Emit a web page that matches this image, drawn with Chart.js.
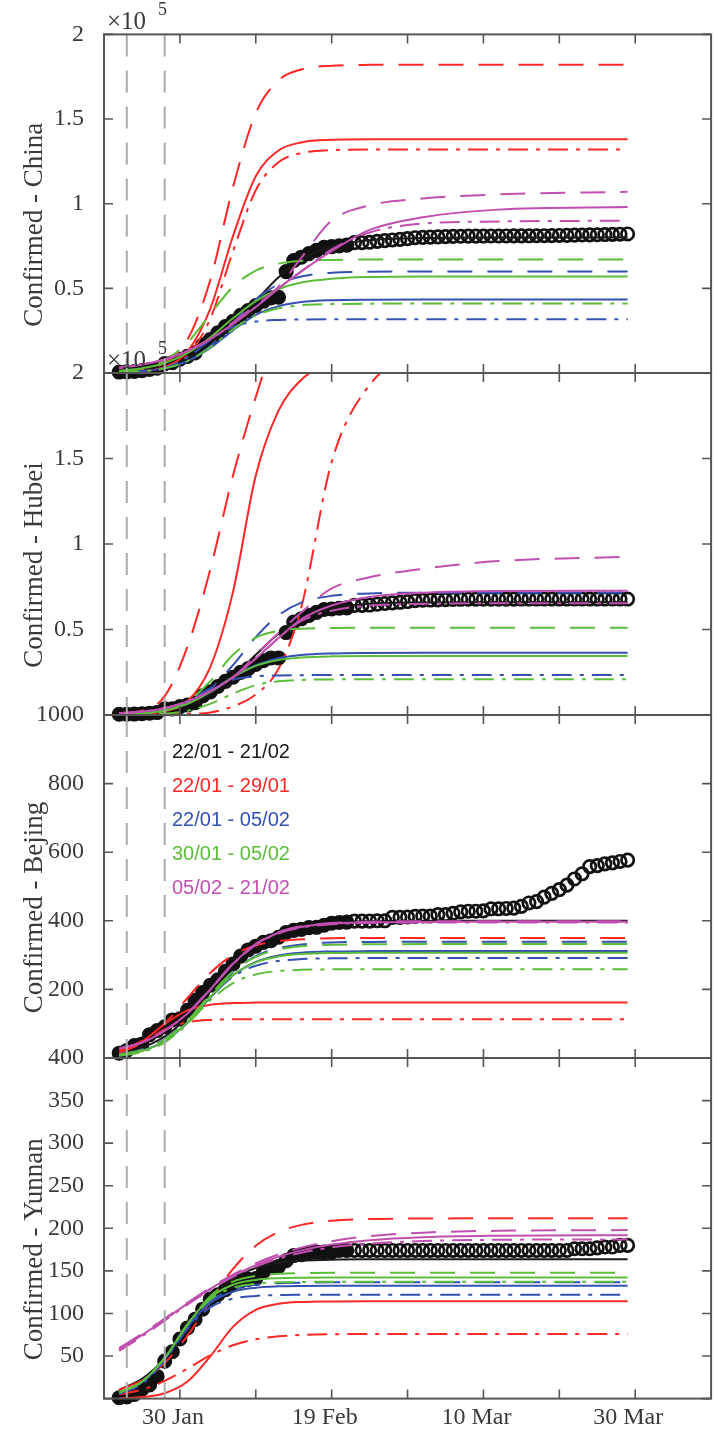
<!DOCTYPE html>
<html>
<head>
<meta charset="utf-8">
<script src="https://cdn.jsdelivr.net/npm/chart.js@4.4.1/dist/chart.umd.min.js"></script>
<style>
  html, body { margin: 0; padding: 0; background: #fff; }
  #wrap { position: relative; width: 720px; height: 1433px; }
  #wrap canvas { position: absolute; left: 0; top: 0; }
</style>
</head>
<body>
<div id="wrap">
  <canvas id="c0" width="720" height="1433"></canvas>
  <canvas id="c1" width="720" height="1433"></canvas>
  <canvas id="c2" width="720" height="1433"></canvas>
  <canvas id="c3" width="720" height="1433"></canvas>
</div>
<script>
// days counted from 22 Jan
const MARK_DAYS = [1, 6];
const XTICK_DAYS = [8, 18, 28, 38, 48, 58, 68];
const XTICK_LABELS = ["30 Jan", "", "19 Feb", "", "10 Mar", "", "30 Mar"];
const FILLED_UNTIL = 30; // 21/02, last day of the fitting data

// fitting windows (legend)
const WINDOWS = ["22/01 - 21/02", "22/01 - 29/01", "22/01 - 05/02", "30/01 - 05/02", "05/02 - 21/02"];

// fitted curves are sampled on these days
const FIT_DAYS = [0, 3, 6, 9, 12, 15, 18, 21, 24, 28, 33, 40, 50, 67];

// observed confirmed cases, one value per day from 22/01 to 29/03
const CHINA = [548, 643, 920, 1406, 2075, 2877, 5509, 6087, 8141, 9802,
  11891, 16630, 19716, 23707, 27440, 30587, 34110, 36814, 39829, 42354,
  44386, 44759, 59895, 66358, 68413, 70513, 72434, 74211, 74619, 75077,
  75550, 77001, 77022, 77241, 77754, 78166, 78600, 78928, 79356, 79932,
  80136, 80261, 80386, 80537, 80690, 80770, 80823, 80860, 80887, 80921,
  80932, 80945, 80977, 81003, 81033, 81058, 81102, 81156, 81250, 81305,
  81435, 81498, 81591, 81661, 81782, 81897, 81999, 82122];
const HUBEI = [444, 444, 549, 761, 1058, 1423, 3554, 3554, 4903, 5806,
  7153, 11177, 13522, 16678, 19665, 22112, 24953, 27100, 29631, 31728,
  33366, 33366, 48206, 54406, 56249, 58182, 59989, 61682, 62031, 62442,
  62662, 64084, 64084, 64287, 64786, 65187, 65596, 65914, 66337, 66907,
  67103, 67217, 67332, 67466, 67592, 67666, 67707, 67743, 67760, 67773,
  67781, 67786, 67790, 67794, 67798, 67799, 67800, 67800, 67800, 67800,
  67800, 67800, 67801, 67801, 67801, 67801, 67801, 67801];
const BEIJING = [14, 22, 36, 41, 68, 80, 91, 111, 114, 139,
  168, 191, 212, 228, 253, 274, 297, 315, 326, 337,
  342, 352, 366, 372, 375, 380, 381, 387, 393, 395,
  396, 399, 399, 399, 400, 400, 410, 410, 411, 413,
  414, 414, 418, 418, 422, 426, 428, 428, 429, 435,
  435, 436, 437, 442, 452, 456, 469, 480, 491, 504,
  522, 537, 558, 561, 566, 569, 573, 577];
const YUNNAN = [1, 2, 5, 11, 16, 26, 44, 55, 70, 83,
  93, 105, 117, 122, 128, 135, 138, 140, 141, 149,
  154, 155, 162, 168, 169, 171, 172, 172, 172, 174,
  174, 174, 174, 174, 174, 174, 174, 174, 174, 174,
  174, 174, 174, 174, 174, 174, 174, 174, 174, 174,
  174, 174, 174, 174, 174, 174, 174, 174, 174, 174,
  176, 176, 176, 177, 178, 178, 180, 180];

// fitted curves per window: [solid, dashed, dash-dot]
const CHINA_FITS = {
  "22/01 - 21/02": [[1000, 2080, 4300, 8500, 16100, 27900, 42500, 56500, 66800, 74600, 78400, 79700, 80000, 80000]],
  "22/01 - 29/01": [
    [270, 990, 3600, 12700, 37900, 80900, 116200, 131400, 136200, 137700, 138000, 138000, 138000, 138000],
    [510, 1780, 6100, 19800, 54800, 109800, 153400, 172800, 179300, 181500, 182000, 182000, 182000, 182000],
    [210, 800, 2950, 10400, 32000, 71900, 107900, 124500, 129900, 131600, 132000, 132000, 132000, 132000]],
  "22/01 - 05/02": [
    [420, 1120, 2890, 7000, 14800, 25200, 34300, 39500, 41900, 43000, 43300, 43400, 43400, 43400],
    [410, 1090, 2840, 7100, 15900, 29500, 43400, 52500, 57000, 59200, 59800, 60000, 60000, 60000],
    [220, 840, 3000, 9200, 19400, 27200, 30400, 31350, 31600, 31700, 31700, 31700, 31700, 31700]],
  "30/01 - 05/02": [
    [1270, 2780, 5900, 11700, 21000, 32300, 42500, 49500, 53400, 55700, 56700, 57000, 57000, 57000],
    [940, 2700, 7400, 17900, 34700, 50900, 60500, 64600, 66200, 66800, 67000, 67000, 67000, 67000],
    [360, 1010, 2770, 7000, 15200, 25800, 34000, 38200, 40000, 40700, 40950, 41000, 41000, 41000]],
  "05/02 - 21/02": [
    [3000, 5000, 8000, 13000, 20000, 29000, 39000, 50000, 60000, 72000, 84500, 92000, 96500, 98000],
    [3000, 5000, 8000, 13000, 20000, 30000, 40000, 51000, 68000, 90000, 99000, 103000, 105500, 107000],
    [3000, 5000, 8000, 13000, 20000, 29000, 39000, 50000, 60000, 73000, 83000, 88300, 89500, 90000]]
};
const HUBEI_FITS = {
  "22/01 - 21/02": [[580, 1290, 2830, 6040, 12200, 22300, 35200, 47500, 56300, 62300, 65000, 65800, 66000, 66000]],
  "22/01 - 29/01": [
    [300, 800, 2200, 8000, 28000, 72000, 140000, 178000, 196000, 207000, 212000, 213000, 213000, 213000],
    [1000, 2500, 11000, 40000, 85000, 140000, 186000, 225000, 250000, 265000, 272000, 275000, 276000, 276000],
    [50, 100, 300, 600, 1500, 5000, 12000, 27000, 63000, 148000, 193000, 212000, 216000, 217000]],
  "22/01 - 05/02": [
    [460, 1170, 2900, 6700, 13500, 22100, 29100, 33200, 35100, 36000, 36300, 36400, 36400, 36400],
    [470, 1170, 2900, 6900, 15300, 29200, 45500, 58300, 65700, 69700, 71100, 71500, 71500, 71500],
    [210, 770, 2700, 7900, 15500, 20700, 22600, 23100, 23300, 23400, 23400, 23400, 23400, 23400]],
  "30/01 - 05/02": [
    [370, 1010, 2670, 6500, 13500, 22100, 28700, 32200, 33600, 34300, 34500, 34500, 34500, 34500],
    [210, 720, 2460, 7700, 19700, 35200, 45200, 49200, 50500, 50900, 51000, 51000, 51000, 51000],
    [80, 250, 820, 2500, 6500, 12500, 17400, 19700, 20500, 20800, 20900, 20900, 20900, 20900]],
  "05/02 - 21/02": [
    [1000, 2000, 4000, 8000, 14000, 22000, 33000, 45000, 56000, 64000, 69000, 71500, 72500, 72700],
    [1000, 2000, 4000, 8000, 14000, 22000, 35000, 48000, 60000, 74000, 80500, 85500, 90000, 92500],
    [1000, 2000, 4000, 8000, 14000, 22000, 33000, 45000, 55000, 61000, 64000, 65000, 65300, 65300]]
};
const BEIJING_FITS = {
  "22/01 - 21/02": [[14, 30, 63, 118, 194, 270, 330, 366, 385, 395, 399, 400, 400, 400]],
  "22/01 - 29/01": [
    [15, 47, 99, 139, 155, 160, 161.5, 162, 162, 162, 162, 162, 162, 162],
    [22, 50, 101, 175, 248, 300, 328, 341, 346, 349, 350, 350, 350, 350],
    [13.5, 43, 83, 104, 111, 112.7, 113, 113, 113, 113, 113, 113, 113, 113]],
  "22/01 - 05/02": [
    [8.5, 21, 50, 103, 176, 241, 280, 299, 307, 310.6, 311.7, 312, 312, 312],
    [10, 25, 55, 109, 182, 251, 297, 320, 331, 337, 338.5, 339, 339, 339],
    [7.5, 20, 49, 104.5, 177, 237, 269, 283, 288.4, 290.6, 291.3, 291.5, 291.5, 291.5]],
  "30/01 - 05/02": [
    [7.9, 20.5, 49.5, 104.6, 178.5, 242, 279, 296, 303, 306, 306.8, 307, 307, 307],
    [9.7, 23.6, 54, 109, 184, 252, 295, 316, 325.6, 330, 331.6, 332, 332, 332],
    [6.2, 17.4, 45.4, 99.6, 168, 218.6, 243.7, 253.6, 257, 258.5, 259, 259, 259, 259]],
  "05/02 - 21/02": [
    [28, 45, 80, 130, 200, 275, 331, 365, 382, 391.8, 395.6, 396.8, 397, 397],
    [28, 45, 80, 131, 201, 276, 333, 367, 384, 393.7, 397.5, 398.8, 399, 399],
    [28, 45, 80, 130, 199, 273, 329.7, 363, 380, 389.8, 393.6, 394.8, 395, 395]]
};
const YUNNAN_FITS = {
  "22/01 - 21/02": [[10.3, 23.2, 47.3, 81.9, 116.1, 140.5, 153.4, 159.4, 161.9, 163.2, 163.6, 163.7, 163.7, 163.7]],
  "22/01 - 29/01": [
    [0.5, 1.8, 6.3, 20, 49.7, 84.2, 104.1, 111.3, 113.5, 114.1, 114.3, 114.3, 114.3, 114.3],
    [10.4, 21.4, 41.8, 73.8, 114.1, 152.3, 179.5, 195.6, 204, 208.9, 210.9, 211.5, 211.7, 211.7],
    [5, 10.6, 20.8, 35.3, 50.8, 62.6, 69.6, 73.1, 74.7, 75.6, 75.9, 76, 76, 76]],
  "22/01 - 05/02": [
    [6.5, 18.9, 46.3, 84, 112.4, 125.5, 130.2, 131.8, 132.3, 132.5, 132.5, 132.5, 132.5, 132.5],
    [6.9, 19.6, 46.9, 84.8, 114.1, 128.5, 133.8, 135.6, 136.2, 136.5, 136.5, 136.5, 136.5, 136.5],
    [5.4, 17.2, 44.8, 81.9, 107.1, 117.4, 120.6, 121.6, 121.9, 122, 122, 122, 122, 122]],
  "30/01 - 05/02": [
    [7, 19.8, 47.7, 87.1, 118.3, 133.7, 139.4, 141.4, 142, 142.3, 142.3, 142.3, 142.3, 142.3],
    [7.3, 20.1, 47.7, 87.4, 120.3, 137.4, 144.1, 146.5, 147.3, 147.7, 147.7, 147.7, 147.7, 147.7],
    [6.8, 19.6, 47.8, 87, 116.4, 130, 134.9, 136.5, 137, 137.2, 137.2, 137.2, 137.2, 137.2]],
  "05/02 - 21/02": [
    [57.7, 74.5, 92.9, 111.5, 128.9, 144.2, 156.8, 166.7, 174.1, 180.9, 186.1, 189.6, 191.3, 191.9],
    [59.3, 75.9, 94.1, 112.5, 130.1, 145.7, 158.8, 169.4, 177.3, 184.9, 190.8, 194.9, 197.1, 197.9],
    [56, 73, 91.6, 110.4, 127.8, 142.9, 155.1, 164.5, 171.3, 177.5, 182, 185, 186.5, 187]]
};

// y ticks
const E5_TICKS = [0, 50000, 100000, 150000, 200000];
const E5_LABELS = ["", "0.5", "1", "1.5", "2"];
const BEIJING_TICKS = [0, 200, 400, 600, 800, 1000];
const BEIJING_LABELS = ["", "200", "400", "600", "800", "1000"];
const YUNNAN_TICKS = [0, 50, 100, 150, 200, 250, 300, 350, 400];
const YUNNAN_LABELS = ["", "50", "100", "150", "200", "250", "300", "350", "400"];

// ---- look ----
const H = 1433;
const SERIF = "'Liberation Serif', 'DejaVu Serif', serif";
const SANS = "'Liberation Sans', Arial, sans-serif";
const AXIS = "#555555";
const TEXT = "#3a3a3a";
const COLORS = ["#1a1a1a", "#ff2626", "#3451b2", "#5cbd3a", "#c04fb0"];
const DASHES = [[], [25, 15], [20, 8, 4, 8]];

const panels = [
  { title: "Confirmed - China", obs: CHINA, fits: CHINA_FITS, yt: E5_TICKS, yl: E5_LABELS, top: 32, bottom: 373, exp: true },
  { title: "Confirmed - Hubei", obs: HUBEI, fits: HUBEI_FITS, yt: E5_TICKS, yl: E5_LABELS, top: 373, bottom: 715, exp: true },
  { title: "Confirmed - Bejing", obs: BEIJING, fits: BEIJING_FITS, yt: BEIJING_TICKS, yl: BEIJING_LABELS, top: 715, bottom: 1058, legend: true },
  { title: "Confirmed - Yunnan", obs: YUNNAN, fits: YUNNAN_FITS, yt: YUNNAN_TICKS, yl: YUNNAN_LABELS, top: 1058, bottom: 1400 }
];

// box, inward ticks and the free texts
function framePlugin(p, k) {
  return {
    id: "frame" + k,
    afterDatasetsDraw(chart) {
      const ctx = chart.ctx;
      const a = chart.chartArea;
      const x = chart.scales.x, y = chart.scales.y;
      ctx.save();
      ctx.strokeStyle = AXIS;
      ctx.lineWidth = 1.6;
      ctx.beginPath();
      x.ticks.forEach(t => {
        const px = x.getPixelForValue(t.value);
        ctx.moveTo(px, a.bottom); ctx.lineTo(px, a.bottom - 9);
        ctx.moveTo(px, a.top); ctx.lineTo(px, a.top + 9);
      });
      y.ticks.forEach(t => {
        const py = y.getPixelForValue(t.value);
        ctx.moveTo(a.left, py); ctx.lineTo(a.left + 9, py);
        ctx.moveTo(a.right, py); ctx.lineTo(a.right - 9, py);
      });
      ctx.stroke();
      ctx.lineWidth = 2;
      ctx.strokeRect(a.left, a.top, a.right - a.left, a.bottom - a.top);

      // y title
      ctx.fillStyle = TEXT;
      ctx.font = "27px " + SERIF;
      ctx.textAlign = "center";
      ctx.textBaseline = "middle";
      ctx.translate(35, (a.top + a.bottom) / 2 + 21);
      ctx.rotate(-Math.PI / 2);
      ctx.fillText(p.title, 0, 0);
      ctx.setTransform(1, 0, 0, 1, 0, 0);

      if (p.exp) {
        ctx.textAlign = "left";
        ctx.font = "25px " + SERIF;
        ctx.fillText("\u00d710", a.left + 3, a.top - 12);
        ctx.font = "18px " + SERIF;
        ctx.fillText("5", a.left + 54, a.top - 24);
      }
      if (p.legend) {
        ctx.textAlign = "left";
        ctx.font = "20px " + SANS;
        WINDOWS.forEach((w, i) => {
          ctx.fillStyle = COLORS[i];
          ctx.fillText(w, 172, a.top + 37 + i * 34);
        });
      }
      ctx.restore();
    }
  };
}

panels.forEach((p, k) => {
  const last = k === panels.length - 1;
  const ymax = p.yt[p.yt.length - 1];
  const datasets = [];

  MARK_DAYS.forEach(d => {
    datasets.push({
      data: [{ x: d, y: ymax }, { x: d, y: 0 }],
      borderColor: "#ababab", borderWidth: 2, borderDash: [22, 14], pointRadius: 0
    });
  });

  for (let w = WINDOWS.length - 1; w >= 0; w--) {
    p.fits[WINDOWS[w]].forEach((row, s) => {
      datasets.push({
        data: row.map((v, i) => ({ x: FIT_DAYS[i], y: v })),
        borderColor: COLORS[w], borderWidth: 2, borderDash: DASHES[s],
        pointRadius: 0, cubicInterpolationMode: "monotone"
      });
    });
  }

  const pts = p.obs.map((v, i) => ({ x: i, y: v }));
  datasets.push({
    data: pts.filter(pt => pt.x > FILLED_UNTIL), showLine: false, clip: false,
    pointRadius: 6.2, pointBorderWidth: 2.7, pointBorderColor: "#111",
    pointBackgroundColor: "rgba(0,0,0,0)"
  });
  datasets.push({
    data: pts.filter(pt => pt.x <= FILLED_UNTIL), showLine: false, clip: false,
    pointRadius: 6.2, pointBorderWidth: 2.7, pointBorderColor: "#111",
    pointBackgroundColor: "#111"
  });

  new Chart(document.getElementById("c" + k), {
    type: "line",
    data: { datasets: datasets },
    options: {
      responsive: false,
      animation: false,
      events: [],
      layout: { padding: { left: 0, right: 2, top: p.top, bottom: last ? 0 : H - p.bottom } },
      plugins: { legend: { display: false }, tooltip: { enabled: false } },
      scales: {
        x: {
          type: "linear", min: -2, max: 78,
          afterBuildTicks: s => { s.ticks = XTICK_DAYS.map(v => ({ value: v })); },
          afterFit: s => { s.height = last ? H - p.bottom : 0; },
          grid: { display: false, drawTicks: false },
          border: { display: false },
          ticks: {
            display: last, autoSkip: false, maxRotation: 0, padding: 5, labelOffset: -7,
            color: TEXT, font: { family: SERIF, size: 24 },
            callback: (v, i) => XTICK_LABELS[i]
          }
        },
        y: {
          type: "linear", min: 0, max: ymax,
          afterBuildTicks: s => { s.ticks = p.yt.map(v => ({ value: v })); },
          afterFit: s => { s.width = 104; },
          grid: { display: false, drawTicks: false },
          border: { display: false },
          ticks: {
            autoSkip: false, padding: 20, color: TEXT, font: { family: SERIF, size: 24 },
            callback: (v, i) => p.yl[i]
          }
        }
      }
    },
    plugins: [framePlugin(p, k)]
  });
});
</script>
</body>
</html>
